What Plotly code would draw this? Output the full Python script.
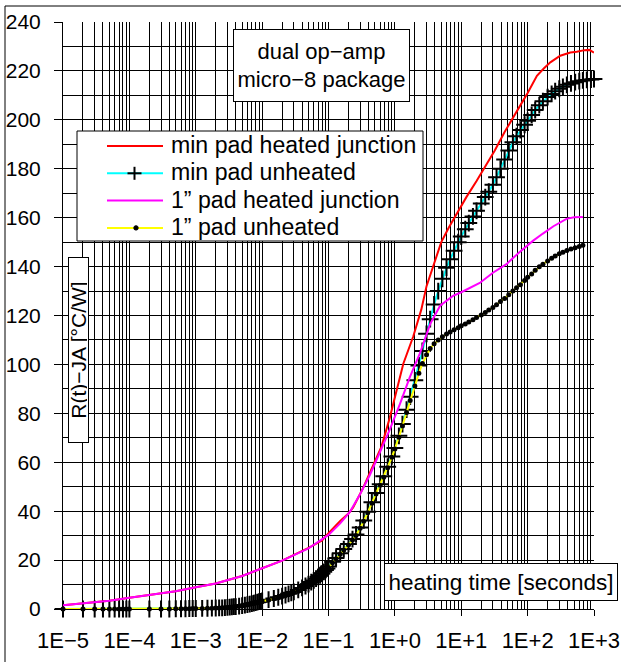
import plotly.graph_objects as go

# ---------------- data ----------------
t_unheated = [
    1e-5, 2e-5, 3e-5, 4e-5, 5e-5, 6e-5, 7e-5, 8e-5, 9e-5,
    1e-4, 2e-4, 3e-4, 4e-4, 5e-4, 6e-4, 7e-4, 8e-4, 9e-4,
    1.0e-3, 1.25e-3, 1.5e-3, 1.75e-3, 2.0e-3, 2.25e-3, 2.5e-3, 2.75e-3, 3.0e-3, 3.25e-3, 3.5e-3, 3.75e-3,
    4.0e-3, 4.5e-3, 5.0e-3, 5.5e-3, 6.0e-3, 6.5e-3, 7.0e-3, 7.5e-3, 8.0e-3, 8.5e-3, 9.0e-3, 9.5e-3,
    0.010, 0.0125, 0.015, 0.0175, 0.020, 0.0225, 0.025, 0.0275, 0.030, 0.035, 0.040, 0.045, 0.050,
    0.055, 0.060, 0.065, 0.070, 0.075, 0.080, 0.085, 0.090, 0.095,
    0.10, 0.115, 0.13, 0.15, 0.17, 0.20, 0.23, 0.26, 0.30, 0.34, 0.39, 0.45, 0.52, 0.60, 0.68, 0.78, 0.90,
    1.0, 1.15, 1.3, 1.5, 1.7, 2.0, 2.3, 2.6, 3.0, 3.4, 3.9, 4.5, 5.2, 6.0, 6.8, 7.8, 9.0,
    10, 11.5, 13, 15, 17, 20, 23, 26, 30, 34, 39, 45, 52, 60, 68, 78, 90,
    100, 115, 130, 150, 170, 200, 230, 260, 300, 340, 390, 450, 520, 600, 680, 780, 900, 1000,
]

r_min_unheated = [
    0, 0, 0, 0, 0, 0, 0, 0, 0,
    0, 0, 0, 0, 0.1, 0.1, 0.1, 0.2, 0.2,
    0.2, 0.25, 0.3, 0.35, 0.4, 0.45, 0.5, 0.6, 0.7, 0.8, 0.9, 0.95,
    1.0, 1.2, 1.4, 1.6, 1.8, 2.0, 2.2, 2.4, 2.6, 2.8, 3.0, 3.1,
    3.3, 3.8, 4.3, 4.8, 5.3, 5.7, 6.2, 6.6, 7.0, 7.8, 8.6, 9.4, 10.2,
    11.0, 11.7, 12.4, 13.1, 13.8, 14.5, 15.2, 15.9, 16.6,
    17.4, 19.3, 20.9, 22.8, 24.5, 26.6, 28.6, 30.5, 33.3, 36.2, 39.8, 43.6, 47.4, 51.0, 54.3, 58.2, 62.4,
    65.8, 70.8, 75.6, 81.5, 86.8, 93.5, 99.6, 105.5, 112.5, 118.5, 124.5, 130.0, 135.0, 139.5, 143.0, 146.5, 150.0,
    152.3, 155.3, 157.8, 160.5, 162.8, 165.8, 168.4, 170.6, 173.5, 176.5, 180.0, 183.8, 187.5, 190.8, 193.3, 195.8, 198.0,
    199.6, 202.0, 204.0, 206.0, 207.6, 209.3, 210.6, 211.7, 212.7, 213.5, 214.3, 214.9, 215.4, 215.8, 216.1, 216.3, 216.5, 216.7,
]

r_1in_unheated = [
    0, 0, 0, 0, 0, 0, 0, 0, 0,
    0, 0, 0, 0, 0.1, 0.1, 0.1, 0.1, 0.2,
    0.2, 0.25, 0.3, 0.35, 0.4, 0.45, 0.5, 0.55, 0.6, 0.7, 0.8, 0.85,
    0.9, 1.1, 1.3, 1.5, 1.7, 1.9, 2.1, 2.3, 2.5, 2.7, 2.9, 3.0,
    3.2, 3.7, 4.2, 4.6, 5.1, 5.5, 6.0, 6.4, 6.8, 7.6, 8.4, 9.2, 10.0,
    10.7, 11.4, 12.1, 12.8, 13.5, 14.2, 14.9, 15.6, 16.3,
    17.0, 18.9, 20.5, 22.4, 24.1, 26.2, 28.2, 30.1, 33.0, 35.9, 39.4, 43.2, 47.0, 50.6, 53.9, 57.8, 62.0,
    65.4, 70.2, 74.8, 80.3, 85.2, 91.2, 96.4, 100.4, 104.0, 106.5, 108.4, 110.0, 111.3, 112.4, 113.3, 114.2, 115.0,
    115.8, 116.5, 117.3, 118.3, 119.2, 120.2, 121.2, 122.2, 123.3, 124.4, 125.7, 127.0, 128.5, 130.0, 131.3, 132.6, 134.3,
    135.6, 137.0, 138.5, 139.9, 141.0, 142.3, 143.4, 144.3, 145.2, 145.9, 146.6, 147.2, 147.7, 148.2, 148.7,
]

t_min_heated = [1e-5, 2e-5, 5e-5, 1e-4, 2e-4, 5e-4, 1e-3, 2e-3, 5e-3, 0.01, 0.02, 0.05, 0.08, 0.1,
                0.15, 0.2, 0.235, 0.33, 0.47, 0.63, 0.84, 1.06, 1.34, 1.89, 2.5, 3.0, 4.0, 5.0, 6.5,
                8.5, 12, 17, 24, 32, 45, 60, 76, 100, 138, 175, 220, 310, 440, 550, 720, 850, 1000]
r_min_heated = [1.5, 2.2, 3.4, 4.6, 5.8, 7.3, 8.9, 10.4, 13.5, 16.5, 19.8, 25.0, 28.0, 31.0,
                36.0, 39.0, 41.5, 49.3, 58.9, 66.5, 78.3, 89.3, 100.3, 111.4, 122.4, 132.0, 142.5, 150.0, 156.0,
                161.5, 168.5, 175.0, 181.5, 187.5, 195.0, 201.0, 205.5, 211.0, 218.0, 221.0, 223.5, 226.2, 227.5,
                227.8, 228.5, 228.6, 227.5]

t_1in_heated = [1e-5, 2e-5, 5e-5, 1e-4, 2e-4, 5e-4, 1e-3, 2e-3, 5e-3, 0.01, 0.02, 0.05, 0.1, 0.15,
                0.21, 0.3, 0.42, 0.59, 0.84, 1.19, 1.68, 2.38, 3.4, 4.8, 7.5, 10, 15, 19, 30, 48, 76,
                120, 170, 245, 385, 500, 680]
r_1in_heated = [1.5, 2.2, 3.4, 4.6, 5.8, 7.3, 8.9, 10.4, 13.5, 16.5, 19.8, 24.8, 30.3, 35.0,
                39.7, 47.0, 54.8, 63.8, 73.4, 83.8, 94.8, 104.5, 116.5, 124.0, 128.0, 129.5, 131.8, 133.3,
                137.5, 141.0, 146.0, 150.5, 153.5, 156.5, 159.5, 160.2, 160.3]

series_names = ["min pad heated junction", "min pad unheated",
                "1\u201d pad heated junction", "1\u201d pad unheated"]
series_colors = ["#ff0000", "#00ffff", "#ff00ff", "#ffff00"]

x_tickvals = [1e-5, 1e-4, 1e-3, 1e-2, 1e-1, 1e0, 1e1, 1e2, 1e3]
x_ticktext = ["1E\u22125", "1E\u22124", "1E\u22123", "1E\u22122", "1E\u22121",
              "1E+0", "1E+1", "1E+2", "1E+3"]
x_minorvals = [k * 10.0 ** e for e in range(-5, 3) for k in range(2, 10)]

FONT = "Arial, Liberation Sans, sans-serif"

# plot-area geometry (pixels) used to place boxes in paper coordinates
L, R, T, B = 63, 594, 22, 609
W, H = R - L, B - T


def px(x):
    return (x - L) / W


def py(y):
    return (B - y) / H


fig = go.Figure()
fig.add_trace(go.Scatter(x=t_min_heated, y=r_min_heated, name=series_names[0],
                         mode="lines", line=dict(color=series_colors[0], width=2)))
fig.add_trace(go.Scatter(x=t_unheated, y=r_min_unheated, name=series_names[1],
                         mode="lines+markers", line=dict(color=series_colors[1], width=2),
                         marker=dict(symbol="cross-thin", size=12, color="black",
                                     line=dict(color="black", width=2)),
                         cliponaxis=False))
fig.add_trace(go.Scatter(x=t_1in_heated, y=r_1in_heated, name=series_names[2],
                         mode="lines", line=dict(color=series_colors[2], width=2)))
fig.add_trace(go.Scatter(x=t_unheated[:len(r_1in_unheated)], y=r_1in_unheated, name=series_names[3],
                         mode="lines+markers", line=dict(color=series_colors[3], width=2),
                         marker=dict(symbol="circle", size=5, color="black"),
                         cliponaxis=False))

fig.update_layout(
    width=621, height=662,
    margin=dict(l=L, r=621 - R, t=T, b=662 - B, autoexpand=False),
    paper_bgcolor="white", plot_bgcolor="white",
    font=dict(family=FONT, size=21, color="black"),
    showlegend=False,
    hovermode=False,
    xaxis=dict(type="log", range=[-5, 3], tickmode="array",
               tickvals=x_tickvals, ticktext=x_ticktext,
               tickfont=dict(size=22), automargin=False,
               showgrid=True, gridcolor="black", gridwidth=1,
               showline=True, linecolor="black", linewidth=1,
               ticks="outside", ticklen=6, tickcolor="black",
               ticklabelstandoff=6,
               minor=dict(tickmode="array", tickvals=x_minorvals, showgrid=True,
                          gridcolor="black", gridwidth=1, ticks=""),
               zeroline=False),
    yaxis=dict(range=[0, 240], tickmode="linear", tick0=0, dtick=20,
               tickfont=dict(size=21), automargin=False,
               showgrid=True, gridcolor="black", gridwidth=1,
               showline=True, linecolor="black", linewidth=1,
               ticks="outside", ticklen=8, tickcolor="black",
               ticklabelstandoff=9,
               minor=dict(tickmode="linear", tick0=0, dtick=10, showgrid=True,
                          gridcolor="black", gridwidth=1, ticks=""),
               zeroline=False),
)

# outer frame
fig.add_shape(type="rect", xref="paper", yref="paper",
              x0=px(5), x1=px(640), y0=py(690), y1=py(6),
              line=dict(color="black", width=1), fillcolor="rgba(0,0,0,0)", layer="below")

# ---- legend box drawn as a framed panel ----
fig.add_shape(type="rect", xref="paper", yref="paper",
              x0=px(77), x1=px(423), y0=py(241), y1=py(131),
              line=dict(color="black", width=1), fillcolor="white", layer="above")
row_y = [146, 173.3, 200.6, 227.9]
for i, name in enumerate(series_names):
    yy = row_y[i]
    fig.add_shape(type="line", xref="paper", yref="paper",
                  x0=px(107), x1=px(163), y0=py(yy), y1=py(yy),
                  line=dict(color=series_colors[i], width=2), layer="above")
    fig.add_annotation(xref="paper", yref="paper", x=px(169), y=py(yy - 1),
                       text=name, showarrow=False, xanchor="left", yanchor="middle",
                       font=dict(family=FONT, size=23.1, color="black"))
# cross symbol for "min pad unheated"
cx, cy = 134.5, row_y[1]
fig.add_shape(type="line", xref="paper", yref="paper", x0=px(cx - 7), x1=px(cx + 7),
              y0=py(cy), y1=py(cy), line=dict(color="black", width=2), layer="above")
fig.add_shape(type="line", xref="paper", yref="paper", x0=px(cx), x1=px(cx),
              y0=py(cy - 6.5), y1=py(cy + 6.5), line=dict(color="black", width=2), layer="above")
# dot symbol for "1" pad unheated"
dx, dy = 136, row_y[3]
fig.add_shape(type="circle", xref="paper", yref="paper", x0=px(dx - 2.2), x1=px(dx + 2.2),
              y0=py(dy + 2.2), y1=py(dy - 2.2), line=dict(color="black", width=1),
              fillcolor="black", layer="above")

fig.add_annotation(xref="paper", yref="paper", x=px(321.5), y=py(65.5),
                   text="dual op\u2212amp<br>micro\u22128 package", showarrow=False,
                   xanchor="center", yanchor="middle", align="center",
                   bgcolor="white", bordercolor="black", borderwidth=1, borderpad=3,
                   width=169, height=65, font=dict(family=FONT, size=22, color="black"))

fig.add_annotation(xref="paper", yref="paper", x=px(618), y=py(582),
                   text="heating time [seconds]", showarrow=False,
                   xanchor="right", yanchor="middle",
                   bgcolor="white", bordercolor="black", borderwidth=1, borderpad=3,
                   width=226, height=30, font=dict(family=FONT, size=22.5, color="black"))

fig.add_annotation(xref="paper", yref="paper", x=px(78), y=py(350),
                   text="R(t)\u2212JA [\u00b0C/W]", showarrow=False, textangle=-90,
                   xanchor="center", yanchor="middle",
                   bgcolor="white", bordercolor="black", borderwidth=1, borderpad=1,
                   width=182, height=17, font=dict(family=FONT, size=21, color="black"))

fig.write_html("out.html")
